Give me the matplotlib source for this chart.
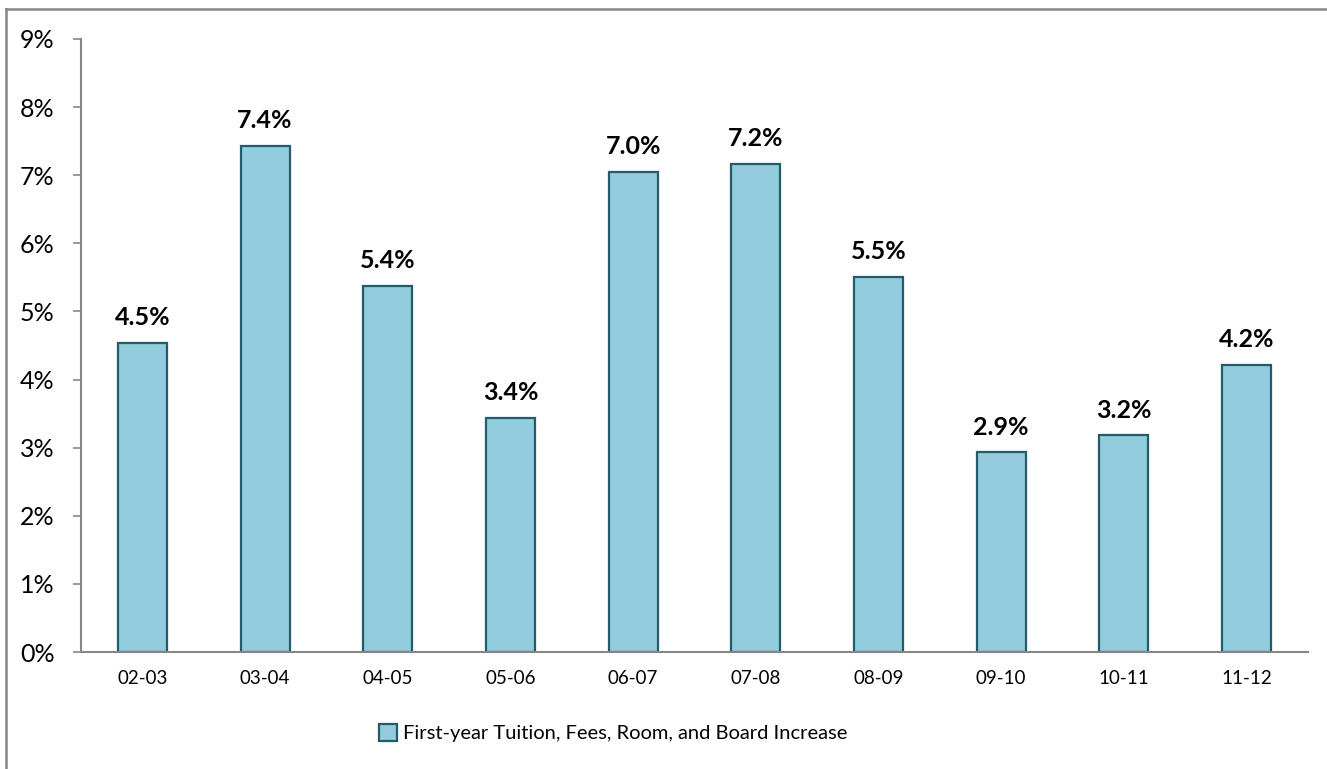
import matplotlib
matplotlib.use("Agg")
from matplotlib import pyplot as plt
from matplotlib.lines import Line2D
from matplotlib.ticker import FuncFormatter
import numpy as np

# data
years = ['02-03', '03-04', '04-05', '05-06', '06-07', '07-08', '08-09', '09-10', '10-11', '11-12']
increase = [4.54, 7.43, 5.38, 3.44, 7.05, 7.17, 5.51, 2.93, 3.18, 4.22]
series_name = 'First-year Tuition, Fees, Room, and Board Increase'

plt.rcParams['font.family'] = ['Lato', 'DejaVu Sans']

fill = '#93CDDD'
edge = '#245B69'
grey = '#868686'

fig = plt.figure(figsize=(13.27, 7.69), dpi=100)
ax = fig.add_axes([81 / 1327, 1 - 652 / 769, (1308 - 81) / 1327, (652 - 39) / 769])

x = np.arange(len(years))
bars = ax.bar(x, increase, width=0.4, color=fill, edgecolor=edge, linewidth=1.6,
              label=series_name)

# value labels on top of bars
for xi, v in zip(x, increase):
    ax.annotate(f'{v:.1f}%', (xi, v), xytext=(0, 10), textcoords='offset points',
                ha='center', va='bottom', fontsize=18, fontweight='bold')

ax.set_xlim(-0.5, len(years) - 0.5)
ax.set_ylim(0, 9)
ax.set_yticks(range(0, 10))
ax.yaxis.set_major_formatter(FuncFormatter(lambda v, p: f'{v:.0f}%'))
ax.set_xticks(x)
ax.set_xticklabels(years)

ax.tick_params(axis='y', labelsize=18, length=6, width=1.2, color=grey, pad=13)
ax.tick_params(axis='x', labelsize=13.5, length=0, pad=13)

for s in ['top', 'right']:
    ax.spines[s].set_visible(False)
for s in ['left', 'bottom']:
    ax.spines[s].set_color(grey)
    ax.spines[s].set_linewidth(1.5)

fig.legend(handles=[bars], loc='center', bbox_to_anchor=(613 / 1327, 1 - 733 / 769),
           frameon=False, fontsize=14.5, handlelength=0.9, handleheight=0.9,
           handletextpad=0.3)

# chart area border (only top and left visible in the crop)
fig.add_artist(Line2D([6 / 1327, 1], [1 - 9 / 769, 1 - 9 / 769], color=grey, lw=1.8,
                      transform=fig.transFigure))
fig.add_artist(Line2D([6 / 1327, 6 / 1327], [0, 1 - 9 / 769], color=grey, lw=1.8,
                      transform=fig.transFigure))

plt.savefig('out.png', dpi=100)
